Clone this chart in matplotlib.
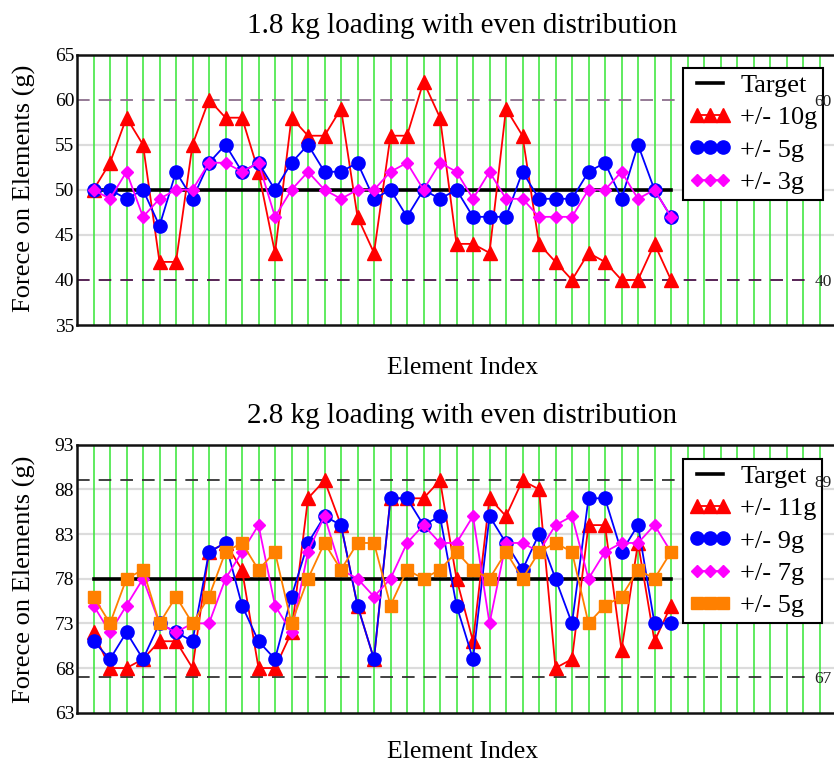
import matplotlib
matplotlib.use('Agg')
import matplotlib.pyplot as plt

plt.rcParams['font.family'] = ['Liberation Serif', 'DejaVu Serif']

# ---------------- data ----------------
element_index = list(range(1, 37))

top_title = "1.8 kg loading with even distribution"
top_target = 50
top_pm10 = [50, 53, 58, 55, 42, 42, 55, 60, 58, 58, 52, 43, 58, 56, 56, 59, 47, 43,
            56, 56, 62, 58, 44, 44, 43, 59, 56, 44, 42, 40, 43, 42, 40, 40, 44, 40]
top_pm5 = [50, 50, 49, 50, 46, 52, 49, 53, 55, 52, 53, 50, 53, 55, 52, 52, 53, 49,
           50, 47, 50, 49, 50, 47, 47, 47, 52, 49, 49, 49, 52, 53, 49, 55, 50, 47]
top_pm3 = [50, 49, 52, 47, 49, 50, 50, 53, 53, 52, 53, 47, 50, 52, 50, 49, 50, 50,
           52, 53, 50, 53, 52, 49, 52, 49, 49, 47, 47, 47, 50, 50, 52, 49, 50, 47]
top_yticks = [35, 40, 45, 50, 55, 60, 65]
top_limits = [60, 40]

bot_title = "2.8 kg loading with even distribution"
bot_target = 78
bot_pm11 = [72, 68, 68, 69, 71, 71, 68, 81, 82, 79, 68, 68, 72, 87, 89, 84, 75, 69,
            87, 87, 87, 89, 78, 71, 87, 85, 89, 88, 68, 69, 84, 84, 70, 82, 71, 75]
bot_pm9 = [71, 69, 72, 69, 73, 72, 71, 81, 82, 75, 71, 69, 76, 82, 85, 84, 75, 69,
           87, 87, 84, 85, 75, 69, 85, 82, 79, 83, 78, 73, 87, 87, 81, 84, 73, 73]
bot_pm7 = [75, 72, 75, 78, 73, 72, 73, 73, 78, 81, 84, 75, 72, 81, 85, 79, 78, 76,
           78, 82, 84, 82, 82, 85, 73, 82, 82, 81, 84, 85, 78, 81, 82, 82, 84, 81]
bot_pm5 = [76, 73, 78, 79, 73, 76, 73, 76, 81, 82, 79, 81, 73, 78, 82, 79, 82, 82,
           75, 79, 78, 79, 81, 79, 78, 81, 78, 81, 82, 81, 73, 75, 76, 79, 78, 81]
bot_yticks = [63, 68, 73, 78, 83, 88, 93]
bot_limits = [89, 67]

grid_x = list(range(1, 46))

# ---------------- figure ----------------
W, H = 834, 769
fig = plt.figure(figsize=(W / 100, H / 100), dpi=100)

PX_PER_UNIT = 16.5
X_MAX = 47
LEFT = 77


def make_axes(top_px, bottom_px):
    return fig.add_axes([LEFT / W, 1 - bottom_px / H,
                         PX_PER_UNIT * X_MAX / W, (bottom_px - top_px) / H])


def style_axes(ax, yticks, limits, limit_colors):
    ax.set_xlim(0, X_MAX)
    ax.set_ylim(yticks[0], yticks[-1])
    ax.set_yticks(yticks)
    ax.set_xticks(grid_x)
    ax.tick_params(axis='both', length=0, labelsize=14, pad=2)
    ax.tick_params(axis='x', labelbottom=False)
    for t in yticks[1:-1]:
        if t not in limits:
            ax.axhline(t, color='#dcdcdc', lw=1.6, zorder=0.5)
    for gx in grid_x:
        ax.axvline(gx, color='#44e844', lw=1.2, zorder=0.6)
    for lim, c in zip(limits, limit_colors):
        ax.plot([0, 44.4], [lim, lim], color=c, lw=1.3, dashes=(7, 5), zorder=0.8)
        ax.text(44.7, lim - 0.28, str(lim), fontsize=12.5, ha='left', va='center',
                color='#222222', zorder=20)
    for s in ax.spines.values():
        s.set_linewidth(1.8)
        s.set_color('#111111')


LINE_KW = dict(lw=1.3, zorder=3)

# ---- top panel ----
ax1 = make_axes(54.6, 325)
style_axes(ax1, top_yticks, top_limits, ['#8c6f8c', '#4a1248'])
h_t, = ax1.plot(element_index, [top_target] * len(element_index), color='black',
                lw=2.6, zorder=2, label='Target')
h1, = ax1.plot(element_index, top_pm10, color='#ff0000', marker='^', ms=9.5,
               label='+/- 10g', **LINE_KW)
h2, = ax1.plot(element_index, top_pm5, color='#0000ff', marker='o', ms=9.5,
               label='+/- 5g', **LINE_KW)
h3, = ax1.plot(element_index, top_pm3, color='#ff00ff', marker='D', ms=6.5,
               label='+/- 3g', **LINE_KW)

LEG_KW = dict(loc='upper left', numpoints=3, fontsize=19, frameon=True,
              fancybox=False, edgecolor='black', framealpha=1, borderpad=0.22,
              labelspacing=0.33, handlelength=1.6, handletextpad=0.35,
              borderaxespad=0)
leg1 = ax1.legend(handles=[h_t, h1, h2, h3],
                  bbox_to_anchor=(683 / W, 1 - 68 / H),
                  bbox_transform=fig.transFigure, **LEG_KW)
leg1.get_frame().set_linewidth(1.5)
leg1.set_zorder(10)

fig.text(462 / W, 1 - 33 / H, top_title, fontsize=21, ha='center', va='baseline')
fig.text(463 / W, 1 - 368 / H, 'Element Index', fontsize=18.5, ha='center',
         va='center')
fig.text(24 / W, 1 - 188 / H, 'Forece on Elements (g)', fontsize=19, rotation=90,
         ha='center', va='center')

# ---- bottom panel ----
ax2 = make_axes(444.7, 712.7)
style_axes(ax2, bot_yticks, bot_limits, ['#333333', '#333333'])
g_t, = ax2.plot(element_index, [bot_target] * len(element_index), color='black',
                lw=2.6, zorder=2, label='Target')
g1, = ax2.plot(element_index, bot_pm11, color='#ff0000', marker='^', ms=9.5,
               label='+/- 11g', **LINE_KW)
g2, = ax2.plot(element_index, bot_pm9, color='#0000ff', marker='o', ms=9.5,
               label='+/- 9g', **LINE_KW)
g3, = ax2.plot(element_index, bot_pm7, color='#ff00ff', marker='D', ms=6.5,
               label='+/- 7g', **LINE_KW)
g4, = ax2.plot(element_index, bot_pm5, color='#ff8000', marker='s', ms=8,
               label='+/- 5g', **LINE_KW)
leg2 = ax2.legend(handles=[g_t, g1, g2, g3, g4],
                  bbox_to_anchor=(683 / W, 1 - 459 / H),
                  bbox_transform=fig.transFigure, **LEG_KW)
leg2.get_frame().set_linewidth(1.5)
leg2.set_zorder(10)

fig.text(462 / W, 1 - 423 / H, bot_title, fontsize=21, ha='center', va='baseline')
fig.text(463 / W, 1 - 752 / H, 'Element Index', fontsize=18.5, ha='center',
         va='center')
fig.text(24 / W, 1 - 579 / H, 'Forece on Elements (g)', fontsize=19, rotation=90,
         ha='center', va='center')

fig.savefig('out.png', dpi=100, facecolor='white')
